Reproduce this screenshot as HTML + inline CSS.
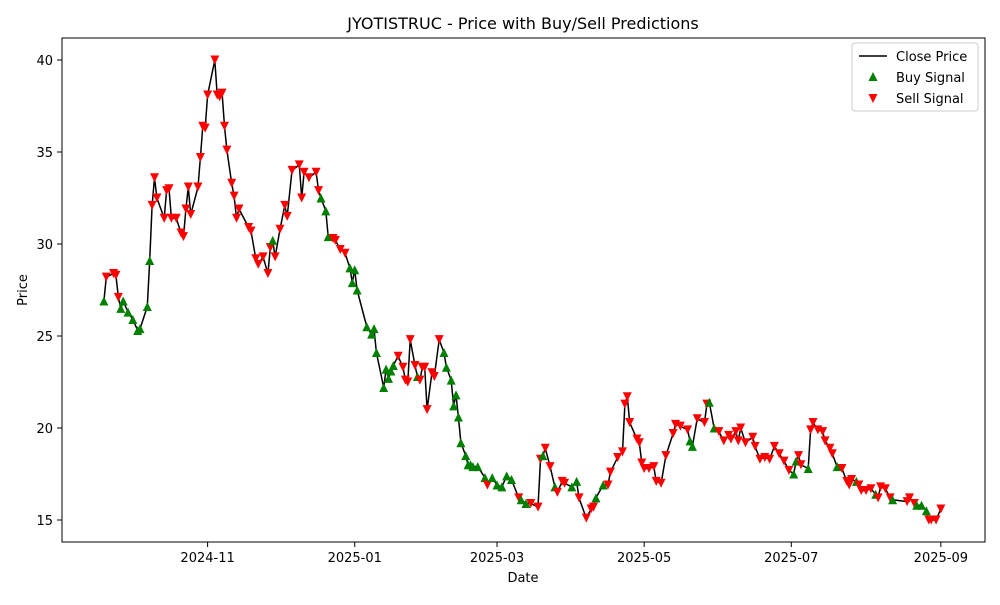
<!DOCTYPE html>
<html><head><meta charset="utf-8">
<style>
body{margin:0;background:#fff;}
svg text{font-family:"DejaVu Sans","Liberation Sans",sans-serif;fill:#000;}
</style></head>
<body>
<svg id="chart" width="1000" height="600" xmlns="http://www.w3.org/2000/svg">
<rect width="1000" height="600" fill="#fff"/>
<text x="523" y="29" font-size="16" text-anchor="middle">JYOTISTRUC - Price with Buy/Sell Predictions</text>
<g id="plot"></g>
<rect x="62" y="38" width="923" height="504" fill="none" stroke="#000" stroke-width="1"/>
<g id="axes"></g>
<text x="523" y="582" font-size="13" text-anchor="middle">Date</text>
<text x="27" y="290" font-size="13" text-anchor="middle" transform="rotate(-90 27 290)">Price</text>
<g>
<rect x="852" y="43" width="126" height="68" fill="#fff" stroke="#ccc" rx="3"/>
<line x1="859" y1="56" x2="887" y2="56" stroke="#000" stroke-width="1.5"/>
<text x="896" y="61" font-size="13">Close Price</text>
<polygon points="873,72 877.5,81 868.5,81" fill="#008000"/>
<text x="896" y="82" font-size="13">Buy Signal</text>
<polygon points="868.5,94 877.5,94 873,103" fill="#ff0000"/>
<text x="896" y="103" font-size="13">Sell Signal</text>
</g>
</svg>
<script>
// days since 2024-11-01
const dayOffsets=[-43,-42,-39,-38,-37,-36,-35,-33,-31,-29,-28,-25,-24,-23,-22,-21,-18,-17,-16,-15,-13,-11,-10,-9,-8,-7,-4,-3,-2,-1,0,3,4,5,6,7,8,10,11,12,13,17,18,20,21,23,25,26,27,28,30,32,33,35,38,39,40,42,45,46,47,49,50,52,53,55,57,59,60,61,62,66,68,69,70,73,74,75,76,77,79,81,82,83,84,86,87,88,89,90,91,93,94,96,98,99,101,102,103,104,105,107,108,109,110,112,115,116,118,120,122,124,126,129,130,132,134,137,138,139,140,142,144,145,147,148,151,153,154,157,159,160,161,164,166,167,170,172,173,174,175,178,179,180,181,183,185,186,188,190,193,194,196,199,200,201,203,206,207,208,210,212,214,216,217,219,220,221,223,226,227,229,231,233,235,237,239,241,243,244,245,246,249,250,251,253,255,256,258,259,261,263,265,266,267,269,270,271,273,275,277,278,279,281,283,284,290,291,293,294,296,298,299,300,302,304];
const closePrices=[26.9,28.2,28.4,28.3,27.1,26.5,26.9,26.3,25.9,25.3,25.4,26.6,29.1,32.1,33.6,32.5,31.4,32.9,33.0,31.4,31.4,30.6,30.4,31.9,33.1,31.6,33.1,34.7,36.4,36.3,38.1,40.0,38.1,38.0,38.2,36.4,35.1,33.3,32.6,31.4,31.9,30.9,30.7,29.2,28.9,29.3,28.4,29.8,30.2,29.3,30.8,32.1,31.5,34.0,34.3,32.5,33.9,33.6,33.9,32.9,32.5,31.8,30.4,30.3,30.2,29.7,29.5,28.7,27.9,28.6,27.5,25.5,25.1,25.4,24.1,22.2,23.2,22.7,23.1,23.4,23.9,23.3,22.6,22.5,24.8,23.4,22.8,22.6,23.3,23.3,21.0,23.0,22.8,24.8,24.1,23.3,22.6,21.2,21.8,20.6,19.2,18.5,18.0,18.0,17.9,17.9,17.3,16.9,17.3,16.9,16.8,17.4,17.2,16.2,16.1,15.9,15.9,15.7,18.3,18.5,18.9,17.9,16.8,16.5,17.1,17.0,16.8,17.1,16.2,15.1,15.6,15.7,16.2,16.9,16.9,17.6,18.4,18.7,21.3,21.7,20.3,19.4,19.2,18.1,17.8,17.8,17.9,17.1,17.0,18.5,19.7,20.2,20.1,19.9,19.3,19.0,20.5,20.3,21.3,21.4,20.0,19.8,19.3,19.6,19.4,19.8,19.3,20.0,19.2,19.5,19.0,18.3,18.4,18.3,19.0,18.6,18.2,17.7,17.5,18.2,18.5,18.0,17.8,19.9,20.3,19.9,19.8,19.3,18.9,18.6,17.9,17.8,17.1,16.9,17.2,17.1,16.9,16.6,16.6,16.7,16.4,16.2,16.8,16.7,16.2,16.1,16.0,16.2,15.9,15.8,15.8,15.5,15.0,15.0,15.0,15.6];
const signals="BSSSSBBBBBBBBSSSSSSSSSSSSSSSSSSSSSSSSSSSSSSSSSSSBSSSSSSSSSSSBBBSSSSBBBBBBBBBBBBBSSSSSSBSSSSSSSBBBBBBBBBBBBBSBBBBBSBBSSSBSSBSSSBBSSSSBBSSSSSSSSSSSSSSSSSSSSBBSSSBBSSSSSSSSSSSSSSSSSBBSSBSSSSSSSBSSSSBSSSSBSSSSBSSSBBBS".split("");
const yTicks=[15,20,25,30,35,40];
const xTickLabels=["2024-11","2025-01","2025-03","2025-05","2025-07","2025-09"];
const xTickDays=[0,61,120,181,242,304];

const NS="http://www.w3.org/2000/svg";
function xScale(d){return 207.6+d*2.412;}
function yScale(v){return 520-(v-15)*18.4;}
const plot=document.getElementById('plot');
const axes=document.getElementById('axes');
function mk(tag,attrs,parent){const e=document.createElementNS(NS,tag);for(const k in attrs)e.setAttribute(k,attrs[k]);parent.appendChild(e);return e;}

yTicks.forEach(v=>{
  const y=yScale(v);
  const t=mk('line',{x1:57,y1:y,x2:62,y2:y,stroke:'#000'},axes);
  
  
  const l=mk('text',{x:53,y:y+5,'font-size':13,'text-anchor':'end'},axes);
  l.textContent=v;
  
  
});
xTickDays.forEach((d,i)=>{
  const x=xScale(d);
  const t=mk('line',{x1:x,y1:542,x2:x,y2:547,stroke:'#000'},axes);
  
  
  const l=mk('text',{x:x,y:562,'font-size':13,'text-anchor':'middle'},axes);
  l.textContent=xTickLabels[i];
  
  
});

const pts=dayOffsets.map((d,i)=>xScale(d).toFixed(1)+','+yScale(closePrices[i]).toFixed(1)).join(' ');
const line=mk('polyline',{points:pts,fill:'none',stroke:'#000','stroke-width':1.5,'stroke-linejoin':'round'},plot);



dayOffsets.forEach((d,i)=>{
  const x=xScale(d), y=yScale(closePrices[i]);
  const s=4.5;
  let p;
  if(signals[i]==='B'){
    p=mk('polygon',{points:`${x},${y-s} ${x+s},${y+s} ${x-s},${y+s}`,fill:'#008000'},plot);
    
  } else {
    p=mk('polygon',{points:`${x-s},${y-s} ${x+s},${y-s} ${x},${y+s}`,fill:'#ff0000'},plot);
    
  }
  
});
</script>
</body></html>
